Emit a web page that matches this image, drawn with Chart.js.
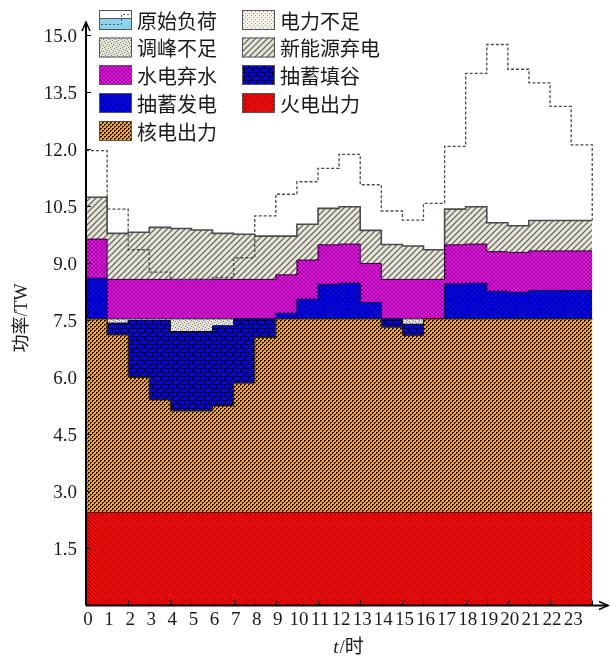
<!DOCTYPE html>
<html>
<head>
<meta charset="utf-8">
<script src="https://cdn.jsdelivr.net/npm/chart.js@4.4.1/dist/chart.umd.min.js"></script>
<style>
  html, body { margin: 0; padding: 0; background: #fff; }
  canvas { display: block; }
</style>
</head>
<body>
<canvas id="grafico" width="610" height="659"></canvas>
<script>
// === Datos (TW, cada hora ocupa [h, h+1]) ===
const horas = [0, 1, 2, 3, 4, 5, 6, 7, 8, 9, 10, 11, 12, 13, 14, 15, 16, 17, 18, 19, 20, 21, 22, 23];
const ticksY = [1.5, 3.0, 4.5, 6.0, 7.5, 9.0, 10.5, 12.0, 13.5, 15.0];

// borde superior de cada capa apilada
const topeTermica = [2.45, 2.45, 2.45, 2.45, 2.45, 2.45, 2.45, 2.45, 2.45, 2.45, 2.45, 2.45,
                     2.45, 2.45, 2.45, 2.45, 2.45, 2.45, 2.45, 2.45, 2.45, 2.45, 2.45, 2.45];
const topeNuclear = [7.54, 7.12, 6.00, 5.41, 5.12, 5.12, 5.25, 5.85, 7.05, 7.54, 7.54, 7.54,
                     7.54, 7.54, 7.32, 7.10, 7.54, 7.54, 7.54, 7.54, 7.54, 7.54, 7.54, 7.54];
const topeLlenadoValle = [7.54, 7.43, 7.50, 7.50, 7.21, 7.21, 7.36, 7.54, 7.54, 7.54, 7.54, 7.54,
                          7.54, 7.54, 7.54, 7.40, 7.54, 7.54, 7.54, 7.54, 7.54, 7.54, 7.54, 7.54];
const topeFaltaRegulacion = [7.54, 7.54, 7.54, 7.54, 7.54, 7.54, 7.54, 7.54, 7.54, 7.54, 7.54, 7.54,
                             7.54, 7.54, 7.54, 7.54, 7.54, 7.54, 7.54, 7.54, 7.54, 7.54, 7.54, 7.54];
const topeBombeoGen = [8.61, 7.54, 7.54, 7.54, 7.54, 7.54, 7.54, 7.54, 7.54, 7.69, 8.06, 8.45,
                       8.48, 7.97, 7.54, 7.54, 7.54, 8.46, 8.48, 8.27, 8.24, 8.29, 8.29, 8.29];
const topeHidro = [9.64, 8.58, 8.58, 8.58, 8.58, 8.58, 8.58, 8.58, 8.58, 8.70, 9.09, 9.49,
                   9.51, 9.00, 8.58, 8.58, 8.58, 9.49, 9.51, 9.31, 9.29, 9.33, 9.33, 9.33];
const topeRenovable = [10.74, 9.79, 9.82, 9.95, 9.92, 9.88, 9.79, 9.77, 9.72, 9.72, 10.03, 10.45,
                       10.49, 9.87, 9.50, 9.46, 9.36, 10.43, 10.49, 10.07, 9.99, 10.13, 10.13, 10.13];
const cargaOriginal = [11.97, 10.43, 9.36, 8.77, 8.58, 8.58, 8.63, 9.15, 10.25, 10.82, 11.15, 11.50,
                       11.87, 11.07, 10.38, 10.14, 10.58, 12.08, 14.00, 14.76, 14.11, 13.75, 13.13, 12.12];

// === Patrones de relleno ===
function patron(w, h, dibujar) {
  const c = document.createElement("canvas");
  c.width = w;
  c.height = h;
  const g = c.getContext("2d");
  dibujar(g, w, h);
  return g.createPattern(c, "repeat");
}

function diagonal(g, w, sube) {
  g.beginPath();
  if (sube) {
    g.moveTo(-1, w + 1); g.lineTo(w + 1, -1);
    g.moveTo(-1, 1); g.lineTo(1, -1);
    g.moveTo(w - 1, w + 1); g.lineTo(w + 1, w - 1);
  } else {
    g.moveTo(-1, -1); g.lineTo(w + 1, w + 1);
    g.moveTo(w - 1, -1); g.lineTo(w + 1, 1);
    g.moveTo(-1, w - 1); g.lineTo(1, w + 1);
  }
  g.stroke();
}

const pRenovable = patron(6, 6, (g, w, h) => {
  g.fillStyle = "#e9e7d7"; g.fillRect(0, 0, w, h);
  g.strokeStyle = "#6b6b6b"; g.lineWidth = 1.3;
  diagonal(g, w, true);
});
const pTermica = patron(4, 4, (g, w, h) => {
  g.fillStyle = "#ff0000"; g.fillRect(0, 0, w, h);
  g.strokeStyle = "#500000"; g.lineWidth = 0.6;
  diagonal(g, w, false);
});
const pHidro = patron(4, 4, (g, w, h) => {
  g.fillStyle = "#ff00ff"; g.fillRect(0, 0, w, h);
  g.strokeStyle = "#300030"; g.lineWidth = 0.6;
  diagonal(g, w, true);
  diagonal(g, w, false);
});
const pBombeoGen = patron(6, 6, (g, w, h) => {
  g.fillStyle = "#0000ff"; g.fillRect(0, 0, w, h);
  g.strokeStyle = "#000070"; g.lineWidth = 0.9;
  diagonal(g, w, true);
  diagonal(g, w, false);
});
const pLlenadoValle = patron(8, 8, (g, w, h) => {
  g.fillStyle = "#0000f4"; g.fillRect(0, 0, w, h);
  g.fillStyle = "#000020";
  g.fillRect(0, 0, w, 1);
  g.fillRect(0, 4, w, 1);
  g.fillRect(0, 0, 1, 4);
  g.fillRect(4, 4, 1, 4);
});
const pNuclear = patron(4, 4, (g, w, h) => {
  g.fillStyle = "#ffa500"; g.fillRect(0, 0, w, h);
  g.fillStyle = "#1c1200";
  g.fillRect(0, 0, 2, 1);
  g.fillRect(0, 1, 1, 1);
  g.fillRect(2, 2, 2, 1);
  g.fillRect(2, 3, 1, 1);
});
const pFaltaRegulacion = patron(6, 6, (g, w, h) => {
  g.fillStyle = "#e6e4d7"; g.fillRect(0, 0, w, h);
  g.fillStyle = "#7a7a72";
  [[0, 0], [3, 1], [1, 3], [4, 4], [2, 5], [5, 2]].forEach(p => g.fillRect(p[0], p[1], 1, 1));
});
const pFaltaPotencia = patron(4, 4, (g, w, h) => {
  g.fillStyle = "#f3f1e6"; g.fillRect(0, 0, w, h);
  g.fillStyle = "#9a998a";
  g.fillRect(1, 1, 1, 1);
  g.fillRect(3, 3, 1, 1);
});

// puntos escalonados: cada valor se mantiene hasta la hora siguiente
function puntos(topes) {
  const pts = horas.map((h, i) => ({ x: h, y: topes[i] }));
  pts.push({ x: 24, y: topes[topes.length - 1] });
  return pts;
}

function capa(label, topes, fill, fondo, borde, grosor) {
  return {
    label,
    data: puntos(topes),
    stepped: true,
    fill,
    backgroundColor: fondo,
    borderColor: borde,
    borderWidth: grosor,
    pointRadius: 0,
    tension: 0
  };
}

const puntosCarga = puntos(cargaOriginal);
puntosCarga.push({ x: 24, y: topeRenovable[topeRenovable.length - 1] });

const datasets = [
  {
    label: "原始负荷",
    data: puntosCarga,
    stepped: true,
    fill: false,
    borderColor: "#4a4a4a",
    borderWidth: 1.3,
    borderDash: [3, 2],
    pointRadius: 0
  },
  capa("火电出力", topeTermica, "origin", pTermica, "#3a0a0a", 1),
  capa("核电出力", topeNuclear, "-1", pNuclear, "#2a1a00", 1),
  capa("抽蓄填谷", topeLlenadoValle, "-1", pLlenadoValle, "#000030", 1),
  capa("调峰不足", topeFaltaRegulacion, "-1", pFaltaRegulacion, "#555555", 1),
  capa("抽蓄发电", topeBombeoGen, "-1", pBombeoGen, "#000040", 1),
  capa("水电弃水", topeHidro, "-1", pHidro, "#2a002a", 1),
  capa("新能源弃电", topeRenovable, "-1", pRenovable, "#4a4a4a", 1.6)
];

// === Leyenda en dos columnas ===
const leyenda = [
  { texto: "原始负荷", col: 0, fila: 0, carga: true },
  { texto: "电力不足", col: 1, fila: 0, fondo: pFaltaPotencia },
  { texto: "调峰不足", col: 0, fila: 1, fondo: pFaltaRegulacion },
  { texto: "新能源弃电", col: 1, fila: 1, fondo: pRenovable },
  { texto: "水电弃水", col: 0, fila: 2, fondo: pHidro },
  { texto: "抽蓄填谷", col: 1, fila: 2, fondo: pLlenadoValle },
  { texto: "抽蓄发电", col: 0, fila: 3, fondo: pBombeoGen },
  { texto: "火电出力", col: 1, fila: 3, fondo: pTermica },
  { texto: "核电出力", col: 0, fila: 4, fondo: pNuclear }
];

const pluginEjes = {
  id: "ejes",
  afterDatasetsDraw(chart) {
    const { ctx, chartArea: a, scales: { x, y } } = chart;
    ctx.save();
    ctx.strokeStyle = "#000";
    ctx.lineWidth = 2;
    ctx.beginPath();
    ctx.moveTo(a.left, a.bottom);
    ctx.lineTo(a.left, a.top - 2);
    ctx.moveTo(a.left, a.bottom);
    ctx.lineTo(a.right + 1, a.bottom);
    ctx.stroke();
    // flechas
    ctx.lineWidth = 1.5;
    ctx.beginPath();
    ctx.moveTo(a.left - 4, a.top + 7);
    ctx.lineTo(a.left, a.top - 2);
    ctx.lineTo(a.left + 4, a.top + 7);
    ctx.moveTo(a.right - 8, a.bottom - 4);
    ctx.lineTo(a.right + 1, a.bottom);
    ctx.lineTo(a.right - 8, a.bottom + 4);
    ctx.stroke();
    // marcas hacia dentro
    ctx.lineWidth = 1;
    ctx.beginPath();
    for (let h = 1; h <= 24; h++) {
      const px = Math.round(x.getPixelForValue(h)) + 0.5;
      ctx.moveTo(px, a.bottom);
      ctx.lineTo(px, a.bottom - 5);
    }
    ticksY.forEach(v => {
      const py = Math.round(y.getPixelForValue(v)) + 0.5;
      ctx.moveTo(a.left, py);
      ctx.lineTo(a.left + 5, py);
    });
    ctx.stroke();
    ctx.restore();
  },
  afterDraw(chart) {
    const { ctx } = chart;
    ctx.save();
    const colX = [99, 242];
    const filaY = [10, 37.5, 65, 93, 121];
    leyenda.forEach(item => {
      const sx = colX[item.col];
      const sy = filaY[item.fila];
      if (item.carga) {
        ctx.fillStyle = "#fff";
        ctx.fillRect(sx, sy, 33, 20);
        ctx.fillStyle = "#8fd2ee";
        ctx.fillRect(sx, sy + 8, 33, 12);
        ctx.strokeStyle = "#555";
        ctx.lineWidth = 1;
        ctx.beginPath();
        ctx.moveTo(sx, sy + 8.5);
        ctx.lineTo(sx + 33, sy + 8.5);
        ctx.stroke();
        ctx.setLineDash([2, 2]);
        ctx.beginPath();
        ctx.moveTo(sx + 2, sy + 14.5);
        ctx.lineTo(sx + 22.5, sy + 14.5);
        ctx.lineTo(sx + 22.5, sy + 4.5);
        ctx.lineTo(sx + 32, sy + 4.5);
        ctx.stroke();
        ctx.setLineDash([]);
      } else {
        ctx.fillStyle = item.fondo;
        ctx.fillRect(sx, sy, 33, 20);
      }
      ctx.strokeStyle = "#555";
      ctx.lineWidth = 1;
      ctx.strokeRect(sx + 0.5, sy + 0.5, 32, 19);
      ctx.fillStyle = "#1a1a1a";
      ctx.font = '20px "Noto Sans CJK SC"';
      ctx.textAlign = "left";
      ctx.textBaseline = "middle";
      ctx.fillText(item.texto, sx + 38, sy + 11);
    });

    // títulos de ejes
    ctx.font = '18px "Liberation Serif", "Noto Sans CJK SC"';
    ctx.textBaseline = "middle";
    ctx.save();
    ctx.translate(22, 318);
    ctx.rotate(-Math.PI / 2);
    ctx.textAlign = "center";
    ctx.fillText("功率/TW", 0, 0);
    ctx.restore();

    const fuenteT = 'italic 19px "Liberation Serif"';
    const fuenteResto = '19px "Liberation Serif", "Noto Sans CJK SC"';
    ctx.font = fuenteT;
    const wT = ctx.measureText("t").width;
    ctx.font = fuenteResto;
    const wResto = ctx.measureText("/时").width;
    const x0 = 348 - (wT + wResto) / 2;
    ctx.textAlign = "left";
    ctx.font = fuenteT;
    ctx.fillText("t", x0, 648);
    ctx.font = fuenteResto;
    ctx.fillText("/时", x0 + wT + 1, 648);
    ctx.restore();
  }
};

const fuenteTicks = { family: '"Liberation Serif", "Times New Roman", serif', size: 19 };

const ctx = document.getElementById("grafico").getContext("2d");
const chart = new Chart(ctx, {
  type: "line",
  data: { datasets },
  options: {
    responsive: false,
    animation: false,
    devicePixelRatio: 1,
    layout: { padding: { top: 24, right: 3, left: 0, bottom: 0 } },
    plugins: {
      legend: { display: false },
      tooltip: { enabled: false }
    },
    scales: {
      x: {
        type: "linear",
        min: 0,
        max: 24.7,
        grid: { display: false, drawTicks: false },
        border: { display: false },
        afterBuildTicks: s => { s.ticks = horas.map(v => ({ value: v })); },
        afterFit: s => { s.height = 53.5; },
        ticks: {
          autoSkip: false,
          maxRotation: 0,
          padding: 3,
          labelOffset: 2,
          color: "#1a1a1a",
          font: fuenteTicks,
          callback: v => String(v)
        }
      },
      y: {
        type: "linear",
        min: 0,
        max: 15.3,
        grid: { display: false, drawTicks: false },
        border: { display: false },
        afterBuildTicks: s => { s.ticks = ticksY.map(v => ({ value: v })); },
        afterFit: s => { s.width = 86; },
        ticks: {
          padding: 9,
          labelOffset: 2,
          color: "#1a1a1a",
          font: fuenteTicks,
          callback: v => v.toFixed(1)
        }
      }
    }
  },
  plugins: [pluginEjes]
});
</script>
</body>
</html>
